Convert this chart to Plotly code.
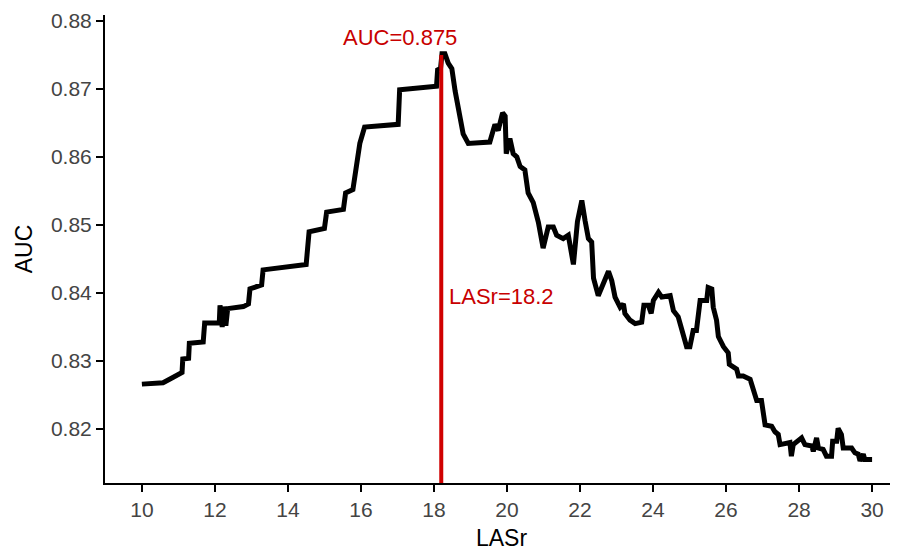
import plotly.graph_objects as go

lasr = [10.0, 10.3, 10.58, 10.86, 11.04, 11.1, 11.12, 11.28, 11.3, 11.68, 11.72, 12.12, 12.14, 12.2, 12.25, 12.3, 12.35,
        12.78, 12.92, 12.96, 13.28, 13.32, 14.5, 14.58, 15.0, 15.06, 15.52, 15.58, 15.78, 15.84, 15.92, 15.97, 16.1,
        17.02, 17.06, 18.07, 18.1, 18.18, 18.22, 18.3, 18.39, 18.49, 18.58, 18.71, 18.80, 18.94, 19.53, 19.67, 19.76,
        19.88, 19.95, 19.98, 20.08, 20.17, 20.27, 20.36, 20.49, 20.58, 20.72, 20.86, 20.99, 21.13, 21.27, 21.36, 21.54,
        21.68, 21.77, 21.82, 21.93, 22.05, 22.14, 22.23, 22.32, 22.37, 22.50, 22.64, 22.78, 22.87, 22.96, 23.10, 23.19,
        23.23, 23.37, 23.51, 23.69, 23.75, 23.87, 23.95, 24.01, 24.15, 24.24, 24.47, 24.56, 24.69, 24.79, 24.92, 25.01,
        25.10, 25.19, 25.29, 25.47, 25.51, 25.61, 25.65, 25.74, 25.79, 25.93, 26.06, 26.09, 26.29, 26.34, 26.47, 26.66,
        26.75, 26.84, 26.97, 27.03, 27.07, 27.25, 27.34, 27.43, 27.48, 27.75, 27.79, 27.84, 27.98, 28.07, 28.16, 28.35,
        28.39, 28.48, 28.53, 28.66, 28.75, 28.89, 28.92, 29.03, 29.07, 29.16, 29.21, 29.44, 29.53, 29.62, 29.67, 29.76,
        29.80, 30.0]
auc = [0.8266, 0.8267, 0.8268, 0.8276, 0.8282, 0.8283, 0.8303, 0.8304, 0.8326, 0.8328, 0.8356, 0.8356, 0.8382, 0.8350,
       0.8380, 0.8352, 0.8377, 0.8380, 0.8384, 0.8406, 0.8412, 0.8434, 0.8442, 0.8490, 0.8495, 0.8519, 0.8523, 0.8547,
       0.8552, 0.8572, 0.8596, 0.8620, 0.8644, 0.8648, 0.8699, 0.8704, 0.8728, 0.8730, 0.8752, 0.8752, 0.8738, 0.8730,
       0.8697, 0.8663, 0.8634, 0.8620, 0.8622, 0.8648, 0.8639, 0.8665, 0.8660, 0.8605, 0.8627, 0.8605, 0.8600, 0.8586,
       0.8581, 0.8547, 0.8533, 0.8504, 0.8466, 0.8497, 0.8497, 0.8485, 0.8480, 0.8485, 0.8457, 0.8442, 0.8505, 0.8536,
       0.8506, 0.8480, 0.8475, 0.8422, 0.8396, 0.8413, 0.8432, 0.8418, 0.8394, 0.8379, 0.8384, 0.8370, 0.8360, 0.8355,
       0.8357, 0.8382, 0.8382, 0.8370, 0.8389, 0.8401, 0.8394, 0.8396, 0.8374, 0.8365, 0.8345, 0.8321, 0.8321, 0.8345,
       0.8345, 0.8389, 0.8389, 0.8408, 0.8406, 0.8379, 0.8360, 0.8336, 0.8321, 0.8312, 0.8295, 0.8288, 0.8278, 0.8278,
       0.8273, 0.8254, 0.8242, 0.8242, 0.8225, 0.8206, 0.8204, 0.8196, 0.8192, 0.8177, 0.8180, 0.8160, 0.8177, 0.8182,
       0.8187, 0.8177, 0.8175, 0.8167, 0.8187, 0.8172, 0.8170, 0.8160, 0.8160, 0.8182, 0.8182, 0.8201, 0.8192, 0.8172,
       0.8172, 0.8165, 0.8163, 0.8153, 0.8163, 0.8155, 0.8155]

best_lasr = 18.2
best_auc = 0.875
x_ticks = [10, 12, 14, 16, 18, 20, 22, 24, 26, 28, 30]
y_ticks = [0.82, 0.83, 0.84, 0.85, 0.86, 0.87, 0.88]
x_range = [8.99, 30.71]
y_range = [0.81206, 0.88088]

FONT = "Liberation Sans, Arial"

fig = go.Figure()
fig.add_trace(go.Scatter(x=lasr, y=auc, mode="lines",
                         line=dict(color="black", width=5), showlegend=False, hoverinfo="x+y"))
fig.add_trace(go.Scatter(x=[best_lasr, best_lasr], y=[y_range[0], best_auc], mode="lines",
                         line=dict(color="#D00000", width=4), showlegend=False))

fig.add_annotation(x=17.07, y=0.8775, text=f"AUC={best_auc}", showarrow=False,
                   font=dict(color="#C80000", size=22, family=FONT),
                   xanchor="center", yanchor="middle")
fig.add_annotation(x=18.36, y=0.8395, text=f"LASr={best_lasr}", showarrow=False,
                   font=dict(color="#C80000", size=22, family=FONT),
                   xanchor="left", yanchor="middle")

axis_common = dict(showline=True, linecolor="black", linewidth=2, ticks="outside", ticklen=7,
                   tickcolor="black", tickwidth=1.5, showgrid=False, zeroline=False,
                   ticklabeloverflow="allow",
                   tickfont=dict(size=21, color="#444444", family=FONT))
fig.update_xaxes(range=x_range, tickvals=x_ticks, automargin="height",
                 title=dict(text="LASr", standoff=10, font=dict(size=23, color="black", family=FONT)),
                 **axis_common)
fig.update_yaxes(range=y_range, tickvals=y_ticks, tickformat=".2f", automargin="width",
                 title=dict(text="AUC", standoff=12, font=dict(size=23, color="black", family=FONT)),
                 **axis_common)

# the page body adds an 8px offset, so the figure is sized to end at the window edge
fig.update_layout(width=890, height=547, plot_bgcolor="white", paper_bgcolor="white",
                  margin=dict(l=97, r=0, t=7, b=72), font=dict(family=FONT))
fig.write_html("out.html")
